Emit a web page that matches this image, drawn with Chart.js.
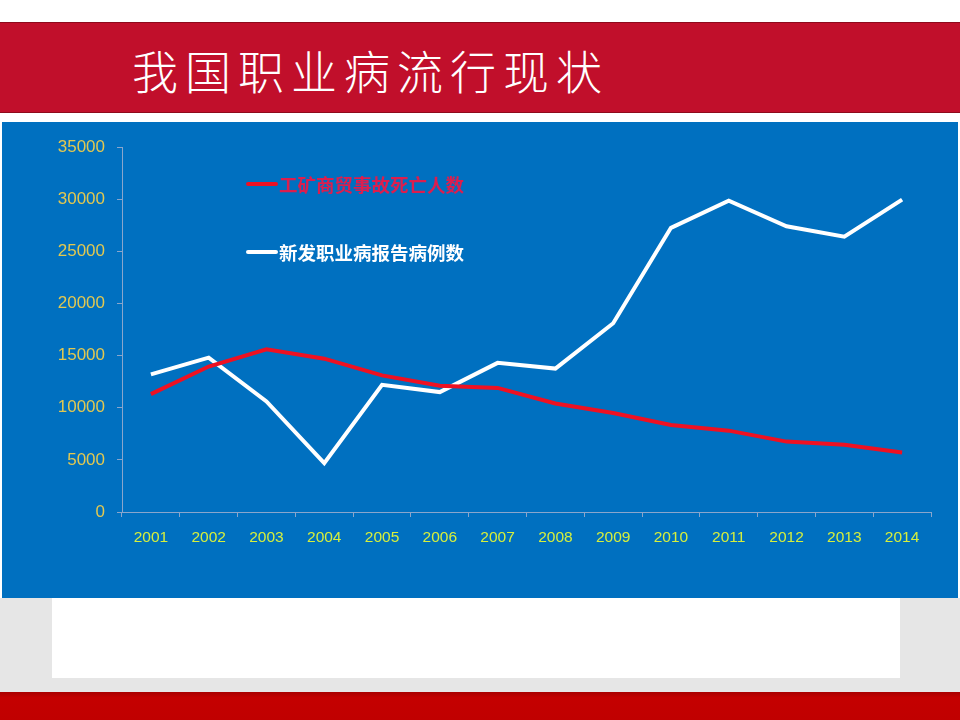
<!DOCTYPE html>
<html>
<head>
<meta charset="utf-8">
<script src="https://cdn.jsdelivr.net/npm/chart.js@4.4.1/dist/chart.umd.min.js"></script>
<style>
  html, body { margin: 0; padding: 0; }
  body { width: 960px; height: 720px; position: relative; overflow: hidden; background: #ffffff; font-family: 'Liberation Sans', Arial, sans-serif; }
  #band { position: absolute; left: 0; top: 22px; width: 960px; height: 89px; background: #c10f2b; border-top: 1px solid #8e0a1c; border-bottom: 1px solid #8e0a1c; }
  #title { position: absolute; left: 132px; top: 34px; color: #fff; font-family: 'Noto Sans CJK SC', sans-serif; font-weight: 300; font-size: 46px; letter-spacing: 7px; line-height: 70px; }
  #lower { position: absolute; left: 0; top: 598px; width: 960px; height: 122px; background: #e6e6e6; }
  #note { position: absolute; left: 52px; top: 598px; width: 848px; height: 80px; background: #fff; }
  #foot { position: absolute; left: 0; top: 692px; width: 960px; height: 28px; background: linear-gradient(#a80000, #c40000 20%, #c00000); }
  #panel { position: absolute; left: 2px; top: 122px; width: 956px; height: 476px; background: #0070c0; }
</style>
</head>
<body>
<div id="band"></div>
<div id="title">我国职业病流行现状</div>
<div id="lower"></div>
<div id="note"></div>
<div id="foot"></div>
<div id="panel"><canvas id="myChart" width="956" height="476"></canvas></div>
<script>
// categories and series
const years = ['2001', '2002', '2003', '2004', '2005', '2006', '2007', '2008', '2009', '2010', '2011', '2012', '2013', '2014']
const deaths = [11300, 13950, 15600, 14700, 13100, 12100, 11900, 10400, 9500, 8350, 7800, 6750, 6450, 5700]
const newCases = [13200, 14800, 10600, 4680, 12200, 11500, 14300, 13750, 18100, 27250, 29850, 27400, 26400, 29950]
const yTicks = [0, 5000, 10000, 15000, 20000, 25000, 30000, 35000]

// legend drawn inside the plot, like the original slide
const innerLegend = {
  id: 'innerLegend',
  afterDraw(chart) {
    const ctx = chart.ctx
    const spots = [
      { x: 246, y: 62, text: '#dc1e4e' },
      { x: 246, y: 130, text: '#ffffff' },
    ]
    chart.data.datasets.forEach(function (ds, i) {
      const s = spots[i]
      ctx.save()
      ctx.strokeStyle = ds.borderColor
      ctx.lineWidth = 4
      ctx.lineCap = 'round'
      ctx.beginPath()
      ctx.moveTo(s.x, s.y)
      ctx.lineTo(s.x + 28, s.y)
      ctx.stroke()
      ctx.fillStyle = s.text
      ctx.font = 'bold 18.5px "Noto Sans CJK SC", sans-serif'
      ctx.textBaseline = 'middle'
      ctx.fillText(ds.label, s.x + 31, s.y + 1)
      ctx.restore()
    })
  },
}

const config = {
  type: 'line',
  data: {
    labels: years,
    datasets: [
      {
        label: '工矿商贸事故死亡人数',
        data: deaths,
        borderColor: '#ee1122',
        borderWidth: 4,
        pointRadius: 0,
        tension: 0,
      },
      {
        label: '新发职业病报告病例数',
        data: newCases,
        borderColor: '#ffffff',
        borderWidth: 4,
        pointRadius: 0,
        tension: 0,
      },
    ],
  },
  options: {
    responsive: false,
    animation: false,
    layout: { padding: { top: 25, right: 27, left: 0, bottom: 0 } },
    plugins: {
      legend: { display: false },
      tooltip: { enabled: false },
    },
    scales: {
      x: {
        offset: true,
        grid: { display: true, drawOnChartArea: false, offset: true, tickLength: 5, color: '#8aa6cc' },
        border: { color: '#8aa6cc', width: 1 },
        ticks: { color: '#d6ef3c', font: { size: 15.5, family: 'Liberation Sans' }, padding: 11, maxRotation: 0 },
        afterFit(scale) { scale.height = 86 },
      },
      y: {
        min: 0,
        max: 35000,
        afterBuildTicks(scale) { scale.ticks = yTicks.map((v) => ({ value: v })) },
        grid: { display: true, drawOnChartArea: false, tickLength: 5, color: '#8aa6cc' },
        border: { color: '#8aa6cc', width: 1 },
        ticks: {
          color: '#e2c850',
          font: { size: 17, family: 'Liberation Sans' },
          padding: 12,
          callback: function (value) {
            return String(value) // no thousands separator
          },
        },
        afterFit(scale) { scale.width = 120 },
      },
    },
  },
  plugins: [innerLegend],
}

var myChart = new Chart(document.getElementById('myChart'), config)
</script>
</body>
</html>
